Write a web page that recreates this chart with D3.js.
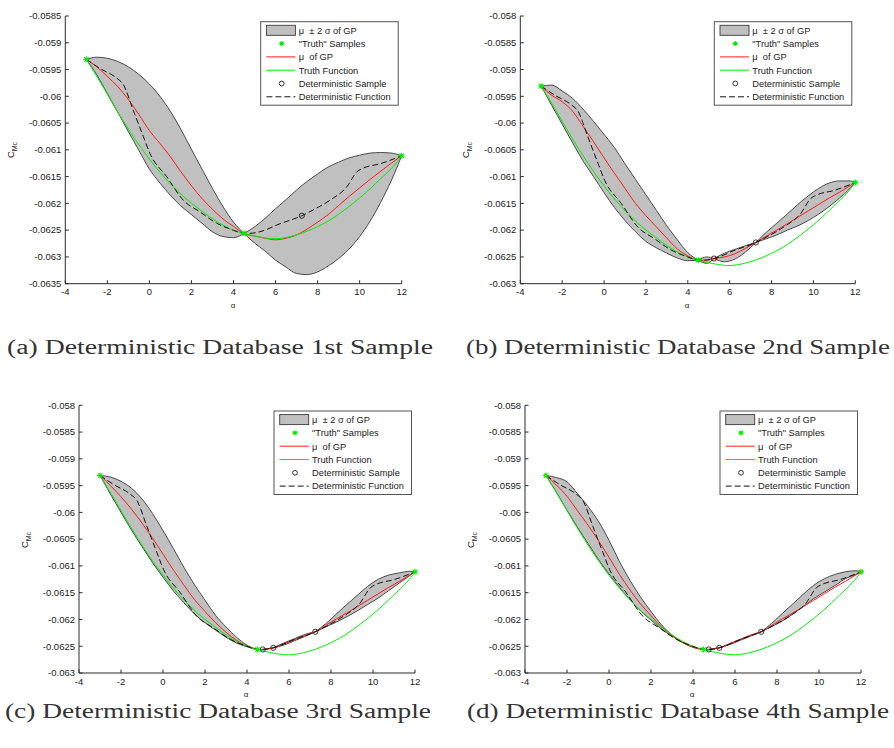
<!DOCTYPE html>
<html><head><meta charset="utf-8">
<script src="https://cdn.jsdelivr.net/npm/d3@7"></script>
<style>
html,body{margin:0;padding:0;background:#fff;}
svg{display:block;}
</style></head>
<body>
<svg id="fig" width="894" height="748"></svg>
<script>
// ---------------- DATA ----------------
const xTicks = [-4,-2,0,2,4,6,8,10,12];
const yTicksA = [-0.0585,-0.059,-0.0595,-0.06,-0.0605,-0.061,-0.0615,-0.062,-0.0625,-0.063,-0.0635];
const yTickLabelsA = ["-0.0585","-0.059","-0.0595","-0.06","-0.0605","-0.061","-0.0615","-0.062","-0.0625","-0.063","-0.0635"];
const yTicksB = [-0.058,-0.0585,-0.059,-0.0595,-0.06,-0.0605,-0.061,-0.0615,-0.062,-0.0625,-0.063];
const yTickLabelsB = ["-0.058","-0.0585","-0.059","-0.0595","-0.06","-0.0605","-0.061","-0.0615","-0.062","-0.0625","-0.063"];

const legendLabels = ["\u03bc  \u00b1 2 \u03c3 of GP", "\"Truth\" Samples", "\u03bc  of GP", "Truth Function", "Deterministic Sample", "Deterministic Function"];
const captions = ["(a) Deterministic Database 1st Sample", "(b) Deterministic Database 2nd Sample",
                  "(c) Deterministic Database 3rd Sample", "(d) Deterministic Database 4th Sample"];

// "Truth" samples (green stars)
const truthSampleX = [-3, 4.5, 12];
const truthSampleY = [-0.05931, -0.06256, -0.06111];

// Truth function (green line)
const truthFnX = [-3,-2.35,-1.56,-0.77,0.03,0.82,1.61,2.41,3.2,3.99,4.5,5.42,6.05,6.7,7.3,7.8,8.59,9.39,10.18,10.97,11.6,12];
const truthFnY = [-0.05931,-0.05973,-0.06026,-0.06075,-0.06119,-0.06156,-0.06187,-0.06212,-0.06234,-0.0625,-0.06256,-0.06264,-0.06266,-0.06262,-0.06255,-0.06247,-0.06231,-0.06209,-0.06184,-0.06155,-0.06131,-0.06111];

// Deterministic function (black dashed)
const detFnX = [-3,-2.35,-1.56,-1.24,-0.77,-0.29,0.03,0.82,1.61,2.41,3.2,3.99,4.5,4.75,5.25,6.21,7.25,7.8,8.59,9.39,9.87,10.18,10.97,12];
const detFnY = [-0.05931,-0.05948,-0.05966,-0.05978,-0.06026,-0.06075,-0.06107,-0.0615,-0.06194,-0.06216,-0.06237,-0.0625,-0.06256,-0.06256,-0.06253,-0.06238,-0.06223,-0.06212,-0.06194,-0.06169,-0.06141,-0.06134,-0.06126,-0.06111];

// Deterministic samples (black circles) per panel
const detSampleX_a = [7.25];
const detSampleY_a = [-0.06223];
const detSampleX_b = [5.25, 7.25];
const detSampleY_b = [-0.06253, -0.06223];
const detSampleX_c = [4.75, 5.25, 7.25];
const detSampleY_c = [-0.06256, -0.06253, -0.06223];
const detSampleX_d = [4.75, 5.25, 7.25];
const detSampleY_d = [-0.06256, -0.06253, -0.06223];

// GP: panel (a)
const gpX_a = [-3,-2.5,-2,-1.5,-1,-0.5,0,0.5,1,1.5,2,2.5,3,3.5,4,4.5,5,5.5,6,6.5,7,7.5,8,8.5,9,9.5,10,10.5,11,11.5,12];
const gpUpper_a = [-0.05931,-0.05927,-0.05929,-0.05935,-0.05945,-0.05959,-0.05977,-0.06,-0.06028,-0.06062,-0.06099,-0.06136,-0.06172,-0.06206,-0.06235,-0.06256,-0.06244,-0.06228,-0.0621,-0.06193,-0.06175,-0.06159,-0.06145,-0.06132,-0.06123,-0.06115,-0.0611,-0.06106,-0.06105,-0.06106,-0.06111];
const gpMean_a  = [-0.05931,-0.05945,-0.05963,-0.05982,-0.06006,-0.06034,-0.06064,-0.06088,-0.06113,-0.06141,-0.06167,-0.06191,-0.06211,-0.06229,-0.06243,-0.06256,-0.06261,-0.06265,-0.06268,-0.06265,-0.06259,-0.06248,-0.06235,-0.06221,-0.06204,-0.06187,-0.06171,-0.06155,-0.0614,-0.06125,-0.06111];
const gpLower_a = [-0.05931,-0.0596,-0.05995,-0.0603,-0.06066,-0.06101,-0.06136,-0.06162,-0.06185,-0.06205,-0.06221,-0.06237,-0.06253,-0.06262,-0.06264,-0.06256,-0.06274,-0.06289,-0.06306,-0.06319,-0.06331,-0.06333,-0.06328,-0.06317,-0.06303,-0.06285,-0.06262,-0.06233,-0.06198,-0.06158,-0.06111];

// GP: panel (b)
const gpX_b = [-3,-2.5,-2,-1.5,-1,-0.5,0,0.5,1,1.5,2,2.5,3,3.5,4,4.5,4.9,5.25,5.75,6.25,6.75,7.25,7.75,8.25,8.75,9.25,9.75,10.25,10.75,11.25,11.75,12];
const gpUpper_b = [-0.05931,-0.05929,-0.0594,-0.05954,-0.05974,-0.05997,-0.06021,-0.06046,-0.06076,-0.06105,-0.06134,-0.06163,-0.06192,-0.06218,-0.06242,-0.06256,-0.0625,-0.06253,-0.06243,-0.06236,-0.06229,-0.06223,-0.06204,-0.06187,-0.0617,-0.06152,-0.06136,-0.06122,-0.06112,-0.06108,-0.06108,-0.06111];
const gpMean_b  = [-0.05931,-0.05948,-0.0596,-0.05978,-0.06006,-0.06035,-0.06065,-0.06094,-0.06122,-0.0615,-0.06173,-0.06194,-0.06215,-0.06235,-0.06248,-0.06256,-0.06256,-0.06253,-0.0625,-0.06244,-0.06234,-0.06223,-0.06211,-0.062,-0.06188,-0.06176,-0.06164,-0.06152,-0.0614,-0.06129,-0.06117,-0.06111];
const gpLower_b = [-0.05931,-0.05967,-0.06002,-0.06037,-0.06071,-0.061,-0.0613,-0.06158,-0.06182,-0.06203,-0.06221,-0.06233,-0.06243,-0.06252,-0.06257,-0.06256,-0.06262,-0.06253,-0.06259,-0.06254,-0.06241,-0.06223,-0.06216,-0.06209,-0.062,-0.06192,-0.06182,-0.0617,-0.06156,-0.0614,-0.06122,-0.06111];

// GP: panel (c)
const gpX_c = [-3,-2.5,-2,-1.5,-1,-0.5,0,0.5,1,1.5,2,2.5,3,3.5,4,4.5,4.75,5.25,5.75,6.25,6.75,7.25,7.75,8.25,8.75,9.25,9.75,10.25,10.75,11.25,11.75,12];
const gpUpper_c = [-0.05931,-0.05934,-0.05942,-0.05955,-0.05975,-0.06002,-0.06034,-0.06068,-0.06103,-0.06135,-0.06164,-0.06192,-0.06214,-0.06233,-0.06248,-0.06256,-0.06256,-0.06253,-0.06244,-0.06236,-0.06228,-0.06223,-0.06208,-0.0619,-0.06172,-0.06155,-0.06138,-0.06125,-0.06117,-0.06113,-0.0611,-0.06111];
const gpMean_c  = [-0.05931,-0.0595,-0.05971,-0.05994,-0.0602,-0.06048,-0.06078,-0.06108,-0.06136,-0.06163,-0.06185,-0.06206,-0.06224,-0.06239,-0.0625,-0.06256,-0.06256,-0.06253,-0.06246,-0.06238,-0.0623,-0.06223,-0.06211,-0.06199,-0.06188,-0.06176,-0.06164,-0.06152,-0.0614,-0.06129,-0.06117,-0.06111];
const gpLower_c = [-0.05931,-0.05966,-0.06,-0.06033,-0.06064,-0.06094,-0.06121,-0.06147,-0.06169,-0.0619,-0.06206,-0.0622,-0.06233,-0.06244,-0.06251,-0.06256,-0.06256,-0.06253,-0.06248,-0.0624,-0.06232,-0.06223,-0.06214,-0.06205,-0.06195,-0.06184,-0.06172,-0.0616,-0.06146,-0.06132,-0.06118,-0.06111];

// GP: panel (d)
const gpX_d = [-3,-2.5,-2,-1.5,-1,-0.5,0,0.5,1,1.5,2,2.5,3,3.5,4,4.5,4.75,5.25,5.75,6.25,6.75,7.25,7.75,8.25,8.75,9.25,9.75,10.25,10.75,11.25,11.75,12];
const gpUpper_d = [-0.05931,-0.05935,-0.05943,-0.05965,-0.05989,-0.06017,-0.06052,-0.06092,-0.06127,-0.06158,-0.06185,-0.0621,-0.06229,-0.06243,-0.06252,-0.06256,-0.06256,-0.06253,-0.06245,-0.06237,-0.06229,-0.06223,-0.06207,-0.06189,-0.06171,-0.06153,-0.06136,-0.06124,-0.06116,-0.06111,-0.06109,-0.06111];
const gpMean_d  = [-0.05931,-0.05949,-0.0597,-0.05997,-0.06024,-0.06053,-0.06084,-0.06116,-0.06145,-0.06171,-0.06193,-0.06214,-0.0623,-0.06243,-0.06252,-0.06256,-0.06256,-0.06253,-0.06246,-0.06238,-0.0623,-0.06223,-0.06211,-0.06199,-0.06188,-0.06176,-0.06164,-0.06152,-0.0614,-0.06129,-0.06117,-0.06111];
const gpLower_d = [-0.05931,-0.05963,-0.05996,-0.06028,-0.06058,-0.06088,-0.06115,-0.0614,-0.06163,-0.06184,-0.06201,-0.06218,-0.06231,-0.06243,-0.06251,-0.06256,-0.06256,-0.06253,-0.06247,-0.06239,-0.06231,-0.06223,-0.06213,-0.06203,-0.0619,-0.06176,-0.06161,-0.06149,-0.06137,-0.06124,-0.06116,-0.06111];

// ---------------- LAYOUT ----------------
const panels = [
  {L:65.3, R:401.7, T:16, B:283.7, yDom:[-0.0635,-0.0585], yT:yTicksA, yTL:yTickLabelsA,
   gx:gpX_a, gu:gpUpper_a, gm:gpMean_a, gl:gpLower_a, dsx:detSampleX_a, dsy:detSampleY_a,
   ylab:[14,150], xlab:[233,308], cap:[7,433,354]},
  {L:520.3, R:855.3, T:16, B:283.7, yDom:[-0.063,-0.058], yT:yTicksB, yTL:yTickLabelsB,
   gx:gpX_b, gu:gpUpper_b, gm:gpMean_b, gl:gpLower_b, dsx:detSampleX_b, dsy:detSampleY_b,
   ylab:[469,150], xlab:[687,308], cap:[466,890,354]},
  {L:79, R:415, T:405.3, B:673, yDom:[-0.063,-0.058], yT:yTicksB, yTL:yTickLabelsB,
   gx:gpX_c, gu:gpUpper_c, gm:gpMean_c, gl:gpLower_c, dsx:detSampleX_c, dsy:detSampleY_c,
   ylab:[28,540], xlab:[246,697], cap:[5,431,718]},
  {L:525, R:861, T:405.3, B:673, yDom:[-0.063,-0.058], yT:yTicksB, yTL:yTickLabelsB,
   gx:gpX_d, gu:gpUpper_d, gm:gpMean_d, gl:gpLower_d, dsx:detSampleX_d, dsy:detSampleY_d,
   ylab:[474,540], xlab:[692,697], cap:[467,889,718]}
];

const svg = d3.select("#fig");
const SANS = "'Liberation Sans',Arial,sans-serif";
const SERIF = "'Liberation Serif','Times New Roman',serif";
const AX = "#2b2b2b";
const BAND = "#c0c0c0";
const BANDEDGE = "#3a3a3a";

function star(g, cx, cy, s, color){
  const h = s/2, d = s*0.36;
  const p = `M${cx-h},${cy}L${cx+h},${cy}M${cx},${cy-h}L${cx},${cy+h}M${cx-d},${cy-d}L${cx+d},${cy+d}M${cx-d},${cy+d}L${cx+d},${cy-d}`;
  g.append("path").attr("d", p).attr("stroke", color).attr("stroke-width", 1.1).attr("fill","none");
}

panels.forEach((P, pi) => {
  const x = d3.scaleLinear().domain([-4,12]).range([P.L, P.R]);
  const y = d3.scaleLinear().domain(P.yDom).range([P.B, P.T]);
  const g = svg.append("g").attr("font-family", SANS);

  // band, split at pinch points
  const pts = P.gx.map((xv,i)=>({x:xv, u:P.gu[i], m:P.gm[i], l:P.gl[i]}));
  const segs = [];
  let cur = [pts[0]];
  for (let i=1;i<pts.length;i++){
    cur.push(pts[i]);
    if (pts[i].u === pts[i].l && i < pts.length-1){ segs.push(cur); cur=[pts[i]]; }
  }
  segs.push(cur);
  const area = d3.area().x(d=>x(d.x)).y0(d=>y(d.l)).y1(d=>y(d.u)).curve(d3.curveMonotoneX);
  const upLine = d3.line().x(d=>x(d.x)).y(d=>y(d.u)).curve(d3.curveMonotoneX);
  const loLine = d3.line().x(d=>x(d.x)).y(d=>y(d.l)).curve(d3.curveMonotoneX);
  segs.forEach(s => {
    g.append("path").attr("d", area(s)).attr("fill", BAND).attr("stroke","none");
  });
  segs.forEach(s => {
    g.append("path").attr("d", upLine(s)).attr("fill","none").attr("stroke",BANDEDGE).attr("stroke-width",0.9);
    g.append("path").attr("d", loLine(s)).attr("fill","none").attr("stroke",BANDEDGE).attr("stroke-width",0.9);
  });

  // mean of GP (red)
  const line = d3.line().curve(d3.curveMonotoneX);
  const smooth = d3.line().curve(d3.curveCatmullRom.alpha(0.5));
  g.append("path").attr("d", line(P.gx.map((xv,i)=>[x(xv), y(P.gm[i])])))
    .attr("fill","none").attr("stroke","#ff1a1a").attr("stroke-width",1);
  // truth function (green)
  g.append("path").attr("d", smooth(truthFnX.map((xv,i)=>[x(xv), y(truthFnY[i])])))
    .attr("fill","none").attr("stroke","#00ee00").attr("stroke-width",1);
  // deterministic function (dashed)
  g.append("path").attr("d", line(detFnX.map((xv,i)=>[x(xv), y(detFnY[i])])))
    .attr("fill","none").attr("stroke","#111").attr("stroke-width",1).attr("stroke-dasharray","6,3");
  // deterministic samples
  P.dsx.forEach((xv,i)=>{
    g.append("circle").attr("cx",x(xv)).attr("cy",y(P.dsy[i])).attr("r",2.6)
      .attr("fill","none").attr("stroke","#222").attr("stroke-width",0.9);
  });
  // truth samples
  truthSampleX.forEach((xv,i)=> star(g, x(xv), y(truthSampleY[i]), 6, "#00ee00"));

  // axes
  g.append("line").attr("x1",P.L).attr("x2",P.R).attr("y1",P.B).attr("y2",P.B).attr("stroke",AX).attr("stroke-width",1);
  g.append("line").attr("x1",P.L).attr("x2",P.L).attr("y1",P.T).attr("y2",P.B).attr("stroke",AX).attr("stroke-width",1);
  xTicks.forEach(t=>{
    g.append("line").attr("x1",x(t)).attr("x2",x(t)).attr("y1",P.B).attr("y2",P.B-3.5).attr("stroke",AX);
    g.append("text").attr("x",x(t)).attr("y",P.B+11.5).attr("text-anchor","middle")
      .attr("font-size",9.5).attr("fill","#222").text(t);
  });
  P.yT.forEach((t,i)=>{
    g.append("line").attr("x1",P.L).attr("x2",P.L+3.5).attr("y1",y(t)).attr("y2",y(t)).attr("stroke",AX);
    g.append("text").attr("x",P.L-4).attr("y",y(t)+3.3).attr("text-anchor","end")
      .attr("font-size",9.5).attr("fill","#222").text(P.yTL[i]);
  });

  // axis labels
  const yl = g.append("text").attr("transform",`translate(${P.ylab[0]},${P.ylab[1]}) rotate(-90)`)
    .attr("text-anchor","middle").attr("font-size",9.5).attr("fill","#222");
  yl.append("tspan").text("C");
  yl.append("tspan").attr("dy",2.5).attr("font-size",7).text("Mc");
  g.append("text").attr("x",P.xlab[0]).attr("y",P.xlab[1]).attr("text-anchor","middle")
    .attr("font-size",8).attr("fill","#222").text("\u03b1");

  // legend
  const lw = 137.5, lh = 83.5;
  const lx = P.R - 3.5 - lw, ly = P.T + 5.7;
  const lg = g.append("g");
  lg.append("rect").attr("x",lx).attr("y",ly).attr("width",lw).attr("height",lh)
    .attr("fill","#fff").attr("stroke","#555").attr("stroke-width",1);
  const rowY = i => ly + 8.6 + i*13.3;
  const sx0 = lx + 5.7, sx1 = lx + 34.7, tx = lx + 38;
  lg.append("rect").attr("x",sx0).attr("y",rowY(0)-5).attr("width",sx1-sx0).attr("height",10)
    .attr("fill",BAND).attr("stroke",BANDEDGE).attr("stroke-width",0.9);
  star(lg, lx+21, rowY(1), 5, "#00ee00");
  lg.append("line").attr("x1",sx0).attr("x2",sx1).attr("y1",rowY(2)).attr("y2",rowY(2)).attr("stroke","#ff1a1a");
  lg.append("line").attr("x1",sx0).attr("x2",sx1).attr("y1",rowY(3)).attr("y2",rowY(3)).attr("stroke","#00ee00");
  lg.append("circle").attr("cx",lx+21).attr("cy",rowY(4)).attr("r",2.4).attr("fill","none").attr("stroke","#222").attr("stroke-width",0.9);
  lg.append("line").attr("x1",sx0).attr("x2",sx1).attr("y1",rowY(5)).attr("y2",rowY(5)).attr("stroke","#111").attr("stroke-dasharray","6,3");
  legendLabels.forEach((t,i)=>{
    lg.append("text").attr("x",tx).attr("y",rowY(i)+3.3).attr("font-size",9.3).attr("fill","#222")
      .style("white-space","pre").text(t);
  });

  // caption
  svg.append("text").attr("x",P.cap[0]).attr("y",P.cap[2])
    .attr("textLength",P.cap[1]-P.cap[0]).attr("lengthAdjust","spacingAndGlyphs")
    .attr("font-family",SERIF).attr("font-size",20).attr("fill","#333")
    .text(captions[pi]);
});
</script>
</body></html>
